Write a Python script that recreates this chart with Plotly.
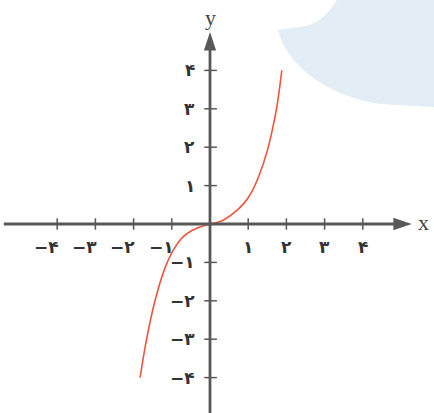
import plotly.graph_objects as go

# Data
curve_x = [-1.83, -1.66, -1.44, -1.18, -0.96, -0.7, -0.35, 0.0,
           0.3, 0.6, 0.9, 1.1, 1.3, 1.48, 1.62, 1.75, 1.88]
curve_y = [-4.0, -3.0, -2.0, -1.15, -0.68, -0.33, -0.11, 0.0,
           0.08, 0.27, 0.55, 0.85, 1.3, 1.84, 2.4, 3.05, 4.0]

tick_vals = [-4, -3, -2, -1, 1, 2, 3, 4]
x_tick_text = ["−۴", "−۳", "−۲", "−۱", "۱", "۲", "۳", "۴"]
y_tick_text = ["−۴", "−۳", "−۲", "−۱", "۱", "۲", "۳", "۴"]

W, H = 434, 413
ox, oy = 210, 224
ux, uy = 38.2, 38.4
xr = [-ox / ux, (W - ox) / ux]
yr = [-(H - oy) / uy, oy / uy]

axis_col = "#585858"
fig = go.Figure()

fig.add_trace(go.Scatter(x=curve_x, y=curve_y, mode="lines",
                         line=dict(color="#f0553c", width=1.6, shape="spline",
                                   smoothing=1.0),
                         hoverinfo="skip", showlegend=False))

shapes = []
# decorative light-blue blob (paper coords)
def px(x, y):
    return f"{x / W:.4f},{1 - y / H:.4f}"
blob = ("M " + px(337, 0) + " Q " + px(322, 25) + " " + px(300, 27) +
        " L " + px(278, 30) +
        " C " + px(286, 62) + " " + px(322, 95) + " " + px(380, 104) +
        " L " + px(434, 107) + " L " + px(434, 0) + " Z")
shapes.append(dict(type="path", path=blob, xref="paper", yref="paper",
                   fillcolor="#e3edf6", line=dict(width=0), layer="below"))

# axes lines
shapes.append(dict(type="line", x0=xr[0] + 0.1, x1=4.9, y0=0, y1=0,
                   line=dict(color=axis_col, width=2.8)))
shapes.append(dict(type="line", x0=0, x1=0, y0=yr[0] - 0.1, y1=4.6,
                   line=dict(color=axis_col, width=2.8)))
# arrowheads
shapes.append(dict(type="path", path="M 5.28,0 L 4.80,0.16 L 4.80,-0.16 Z",
                   fillcolor=axis_col, line=dict(width=0)))
shapes.append(dict(type="path", path="M 0,5.0 L 0.16,4.52 L -0.16,4.52 Z",
                   fillcolor=axis_col, line=dict(width=0)))
# tick marks
for v in tick_vals:
    shapes.append(dict(type="line", x0=v, x1=v, y0=-0.15, y1=0.15,
                       line=dict(color=axis_col, width=1.5)))
    shapes.append(dict(type="line", x0=-0.15, x1=0.18, y0=v, y1=v,
                       line=dict(color=axis_col, width=1.5)))

annotations = []
lab_font = dict(family="DejaVu Sans", size=17, color="#333333")
for v, t in zip(tick_vals, x_tick_text):
    if v < 0:
        annotations.append(dict(x=v + 0.1, y=-0.6, text="<b>" + t + "</b>", showarrow=False,
                                xanchor="right", yanchor="middle", font=lab_font))
    else:
        annotations.append(dict(x=v, y=-0.6, text="<b>" + t + "</b>", showarrow=False,
                                xanchor="center", yanchor="middle", font=lab_font))
for v, t in zip(tick_vals, y_tick_text):
    annotations.append(dict(x=-0.33, y=v, text="<b>" + t + "</b>", showarrow=False,
                            xanchor="right", yanchor="middle", font=lab_font))

serif = dict(family="Liberation Serif", size=22, color="#444444")
annotations.append(dict(x=5.6, y=0.05, text="x", showarrow=False,
                        xanchor="center", yanchor="middle", font=serif))
annotations.append(dict(x=0, y=5.38, text="y", showarrow=False,
                        xanchor="center", yanchor="middle", font=serif))

fig.update_layout(
    width=W, height=H, margin=dict(l=0, r=0, t=0, b=0),
    paper_bgcolor="white", plot_bgcolor="rgba(0,0,0,0)",
    xaxis=dict(range=xr, visible=False, fixedrange=True),
    yaxis=dict(range=yr, visible=False, fixedrange=True),
    shapes=shapes, annotations=annotations, showlegend=False,
)

fig.write_html("out.html", config={"displayModeBar": False},
               post_script="document.body.style.margin='0';document.body.style.overflow='hidden';")
